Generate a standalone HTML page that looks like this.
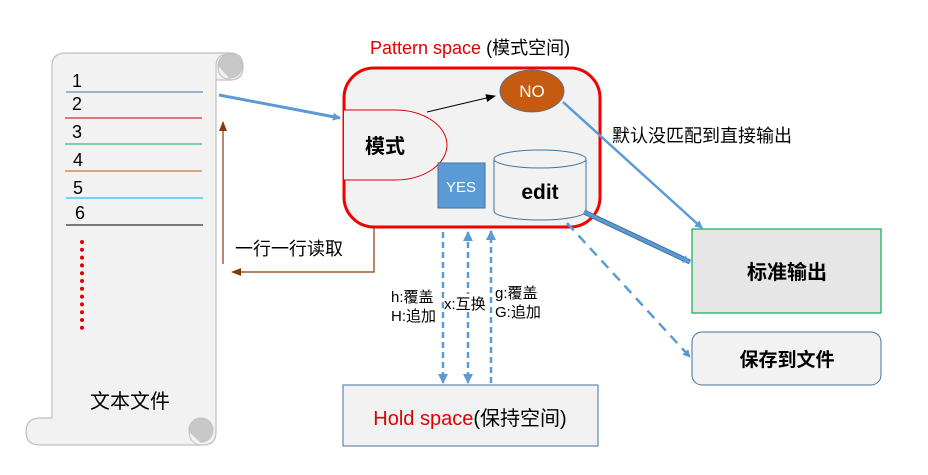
<!DOCTYPE html>
<html><head><meta charset="utf-8"><style>
html,body{margin:0;padding:0;background:#fff;}
svg{display:block;font-family:"Liberation Sans","Noto Sans CJK SC",sans-serif;}
</style></head><body>
<svg width="928" height="475" viewBox="0 0 928 475" xmlns="http://www.w3.org/2000/svg">
<defs>
<marker id="ab" markerWidth="8" markerHeight="8" refX="7" refY="4" orient="auto" markerUnits="userSpaceOnUse"><path d="M0,0 L8,4 L0,8 z" fill="#5B9BD5"/></marker>
<marker id="abs" markerWidth="10" markerHeight="10" refX="9" refY="5" orient="auto-start-reverse" markerUnits="userSpaceOnUse"><path d="M0,0 L10,5 L0,10 z" fill="#5B9BD5"/></marker>
<marker id="ak" markerWidth="10" markerHeight="8" refX="9" refY="4" orient="auto" markerUnits="userSpaceOnUse"><path d="M0,0 L10,4 L0,8 z" fill="#000"/></marker>
<marker id="abr" markerWidth="10" markerHeight="8" refX="9" refY="4" orient="auto" markerUnits="userSpaceOnUse"><path d="M0,0 L10,4 L0,8 z" fill="#843C0C"/></marker>
</defs>
<path d="M52,418 L52,66 Q52,53 66,53 L230,53 Q243,53 243,67 Q243,80 230,80 L216,80 L216,432 Q216,445 203,445 L40,445 Q26,445 26,432 Q26,418 40,418 Z" fill="#f2f2f2" stroke="#bfbfbf" stroke-width="1.2"/>
<path d="M216,80 L216,66 Q216,54 229,54" fill="none" stroke="#bfbfbf"/>
<circle cx="230" cy="66" r="12" fill="#c8c8c8" stroke="#bfbfbf"/>
<path d="M218,66 Q218,79 230,79" fill="#f2f2f2" stroke="#bfbfbf"/>
<circle cx="201" cy="430" r="12" fill="#c8c8c8" stroke="#bfbfbf"/>
<path d="M189,432 Q190,445 203,445" fill="#f2f2f2" stroke="#bfbfbf"/>
<g font-size="18" fill="#000">
<text x="72" y="87">1</text><text x="72" y="110">2</text><text x="72" y="138">3</text><text x="73" y="166">4</text><text x="73" y="194">5</text><text x="75" y="219">6</text>
</g>
<line x1="66" y1="92" x2="203" y2="92" stroke="#2E75B6"/>
<line x1="65" y1="118" x2="202" y2="118" stroke="#C00000"/>
<line x1="65" y1="144" x2="202" y2="144" stroke="#00B050"/>
<line x1="65" y1="171" x2="202" y2="171" stroke="#C55A11"/>
<line x1="66" y1="198" x2="203" y2="198" stroke="#00B0F0"/>
<line x1="66" y1="225" x2="203" y2="225" stroke="#000"/>
<line x1="82" y1="242" x2="82" y2="328" stroke="#e00000" stroke-width="4" stroke-linecap="round" stroke-dasharray="0 7.8"/>
<text x="130" y="408" font-size="20" text-anchor="middle">文本文件</text>
<line x1="219" y1="95" x2="340" y2="118" stroke="#5B9BD5" stroke-width="3" marker-end="url(#ab)"/>
<line x1="223" y1="264" x2="223" y2="122" stroke="#843C0C" stroke-width="1.2" marker-end="url(#abr)"/>
<polyline points="374,228 374,272 232,272" fill="none" stroke="#843C0C" stroke-width="1.2" marker-end="url(#abr)"/>
<text x="235" y="255" font-size="18">一行一行读取</text>
<text x="370" y="54" font-size="18" fill="#e00000">Pattern space <tspan fill="#000">(模式空间)</tspan></text>
<rect x="344" y="68" width="256" height="159" rx="30" fill="#f2f2f2" stroke="#f00000" stroke-width="3"/>
<path d="M344,110 L395,110 A52,35 0 0 1 395,180 L344,180" fill="#f2f2f2" stroke="#e00000" stroke-width="1"/>
<text x="365" y="153" font-size="20" font-weight="bold">模式</text>
<line x1="427" y1="112" x2="495" y2="96" stroke="#000" stroke-width="1" marker-end="url(#ak)"/>
<ellipse cx="532" cy="91" rx="32" ry="21" fill="#C55A11" stroke="#41719C" stroke-width="0.8"/>
<text x="532" y="97" font-size="17" fill="#fff" text-anchor="middle">NO</text>
<rect x="438" y="163" width="47" height="45" fill="#5B9BD5" stroke="#41719C"/>
<text x="461" y="192" font-size="15" fill="#fff" text-anchor="middle">YES</text>
<path d="M494,159 L494,211 A46,9 0 0 0 586,211 L586,159" fill="#f2f2f2" stroke="#41719C"/>
<ellipse cx="540" cy="159" rx="46" ry="9" fill="#f2f2f2" stroke="#41719C"/>
<text x="540" y="199" font-size="21" font-weight="bold" text-anchor="middle">edit</text>
<line x1="563" y1="102" x2="702" y2="228" stroke="#5B9BD5" stroke-width="2.5" marker-end="url(#ab)"/>
<text x="612" y="142" font-size="18">默认没匹配到直接输出</text>
<line x1="584" y1="212" x2="690" y2="262" stroke="#41719C" stroke-width="5"/>
<line x1="584" y1="212" x2="690" y2="262" stroke="#5B9BD5" stroke-width="3" marker-end="url(#ab)"/>
<line x1="567" y1="223" x2="690" y2="357" stroke="#5B9BD5" stroke-width="2.5" stroke-dasharray="10 7" marker-end="url(#ab)"/>
<rect x="692" y="229" width="189" height="84" fill="#e6e6e6" stroke="#00B050" stroke-width="1.2"/>
<text x="787" y="279" font-size="20" font-weight="bold" text-anchor="middle">标准输出</text>
<rect x="692" y="332" width="189" height="53" rx="10" fill="#f2f2f2" stroke="#41719C"/>
<text x="787" y="366" font-size="19" font-weight="bold" text-anchor="middle">保存到文件</text>
<line x1="443" y1="232" x2="443" y2="383" stroke="#5B9BD5" stroke-width="2.5" stroke-dasharray="6 4" marker-end="url(#abs)"/>
<line x1="468" y1="232" x2="468" y2="383" stroke="#5B9BD5" stroke-width="2.5" stroke-dasharray="6 4" marker-start="url(#abs)" marker-end="url(#abs)"/>
<line x1="491" y1="383" x2="491" y2="231" stroke="#5B9BD5" stroke-width="2.5" stroke-dasharray="6 4" marker-end="url(#abs)"/>
<rect x="390" y="286" width="51" height="40" fill="#fff"/>
<rect x="444" y="294" width="45" height="18" fill="#fff"/>
<rect x="493" y="283" width="54" height="40" fill="#fff"/>
<g font-size="15">
<text x="391" y="302">h:覆盖</text><text x="391" y="321">H:追加</text>
<text x="444" y="309">x:互换</text>
<text x="495" y="298">g:覆盖</text><text x="495" y="317">G:追加</text>
</g>
<rect x="343" y="385" width="255" height="61" fill="#f2f2f2" stroke="#41719C"/>
<text x="470" y="425" font-size="20" fill="#e00000" text-anchor="middle">Hold space<tspan fill="#000">(保持空间)</tspan></text>
</svg>
</body></html>
